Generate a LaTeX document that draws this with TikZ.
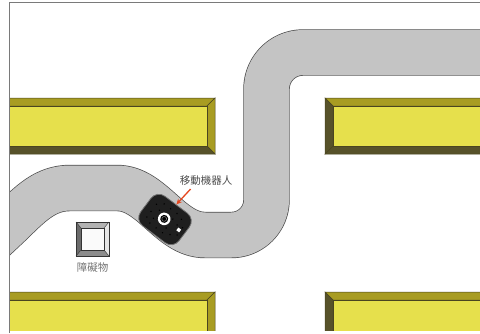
\documentclass[tikz,border=0pt]{standalone}
\usepackage{fontspec}
\newfontfamily\cjk{Noto Sans CJK TC}
\usetikzlibrary{arrows.meta}

\definecolor{roadgray}{HTML}{C4C4C4}
\definecolor{shelfface}{HTML}{E6E04C}
\definecolor{shelflight}{HTML}{A89C22}
\definecolor{shelfdark}{HTML}{57522A}
\definecolor{shelfline}{HTML}{4A4520}
\definecolor{arrowred}{HTML}{E6461E}
\definecolor{framegray}{HTML}{7A7A7A}

% beveled shelf: x1 y1 x2 y2 (y grows downwards)
\newcommand{\shelfbox}[4]{%
  \filldraw[fill=shelflight, draw=shelfline, line width=0.5pt] (#1,#2) -- (#3,#2) -- ({#3-8},{#2+8}) -- ({#1+8},{#2+8}) -- cycle;
  \filldraw[fill=shelflight, draw=shelfline, line width=0.5pt] (#3,#2) -- (#3,#4) -- ({#3-8},{#4-8}) -- ({#3-8},{#2+8}) -- cycle;
  \filldraw[fill=shelfdark, draw=shelfline, line width=0.5pt] (#1,#4) -- (#3,#4) -- ({#3-8},{#4-8}) -- ({#1+8},{#4-8}) -- cycle;
  \filldraw[fill=shelfdark, draw=shelfline, line width=0.5pt] (#1,#2) -- (#1,#4) -- ({#1+8},{#4-8}) -- ({#1+8},{#2+8}) -- cycle;
  \filldraw[fill=shelfface, draw=shelfline, line width=0.5pt] ({#1+8},{#2+8}) rectangle ({#3-8},{#4-8});
}

\begin{document}
\begin{tikzpicture}[x=1pt, y=-1pt,
    road/.style={draw=black!70, line width=0.7pt, double=roadgray, double distance=45pt, line join=round},
    robotbody/.style={rectangle, rounded corners=10pt, minimum width=48pt, minimum height=37pt,
        fill=black!88, draw=black!55, line width=0.8pt, rotate=-37},
    tag/.style={font=\cjk\fontsize{10.5}{12}\selectfont, inner sep=1pt},
    pointer/.style={-{Stealth[length=5.5pt,width=5pt]}, line width=1.3pt, draw=arrowred}]

\useasboundingbox (0,0) rectangle (480,333);
\fill[white] (0,0) rectangle (480,333);

\begin{scope}
  \clip (9.5,2.7) rectangle (480,330);
  % shelves
  \shelfbox{-10}{98}{215}{154}
  \shelfbox{325}{98}{490}{154}
  \shelfbox{-10}{292}{215}{345}
  \shelfbox{325}{292}{490}{345}
  % road
  \draw[road] (490,52.5) -- (303,52.5) .. controls (282.8,52.5) and (266.5,68.8) .. (266.5,89)
    -- (266.5,200) .. controls (266.5,219.3) and (250.8,235) .. (231.5,235)
    -- (205,235) .. controls (170,235) and (152,188) .. (117,188)
    -- (70,188) .. controls (45,188) and (30,204) .. (10,223.5) -- (-15,247);
\end{scope}

% frame
\draw[framegray, line width=0.9pt] (9.5,333) -- (9.5,2.7) -- (480,2.7);

% obstacle
\fill[black!30] (76,222) -- (109,222) -- (104,228) -- (81,228) -- cycle;
\fill[black!10] (109,222) -- (109,256) -- (104,250) -- (104,228) -- cycle;
\fill[black!45] (76,256) -- (109,256) -- (104,250) -- (81,250) -- cycle;
\fill[black!58] (76,222) -- (76,256) -- (81,250) -- (81,228) -- cycle;
\filldraw[fill=black!2, draw=black!80, line width=0.5pt] (81,228) rectangle (104,250);
\draw[black!80, line width=0.7pt] (76,222) rectangle (109,256);
\draw[black!80, line width=0.4pt] (76,222) -- (81,228) (109,222) -- (104,228) (76,256) -- (81,250) (109,256) -- (104,250);
\node (obslbl) [tag, text=black!55] at (92.5,267) {障礙物};

% robot
\node (robot) [robotbody] at (165,219.5) {};
\begin{scope}[shift={(robot.center)}, rotate=-37]
  \foreach \u/\v in {-16/-7, -16/2, -16/9, -10/-12, -10/-4, -10/6, -10/12, -2/-12, -2/12,
                     6/-12, 6/-5, 6/6, 6/12, 13/-10, 13/-3, 13/9, 19/-4, 19/5}
    \fill[black] (\u,\v) circle (0.8);
  \fill[white] (-1,0) circle (6.3);
  \fill[black] (-1,0) circle (4);
  \draw[black!45, line width=0.5pt] (-1,0) circle (2.4);
  \fill[white] (15.5,-1.6) rectangle (19,1.8);
\end{scope}
\node (robotlbl) [tag, text=black!70] at (206,181) {移動機器人};
\draw[pointer] ([xshift=12pt,yshift=-2pt]robotlbl.south west) -- (robot.north);

\end{tikzpicture}
\end{document}
